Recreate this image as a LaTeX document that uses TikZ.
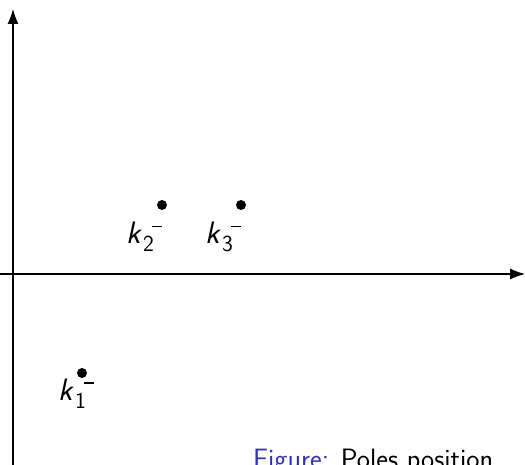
\documentclass[tikz,border=0pt]{standalone}
\usetikzlibrary{arrows.meta}
\definecolor{structblue}{RGB}{51,51,178}
\tikzset{
  axis/.style={line width=1.1pt,-{Latex[length=15pt,width=11pt]}},
  pole/.style={circle,fill=black,inner sep=0pt,minimum size=10pt},
  polelabel/.style={inner sep=0pt,anchor=base west,font=\fontsize{31}{36}\selectfont\sffamily},
  caption/.style={inner sep=0pt,anchor=base west,font=\fontsize{28}{34}\selectfont\sffamily}
}
\newcommand{\lblscript}{\fontsize{23}{27}\selectfont}
\newcommand{\klab}[1]{\rlap{\textit{k}}\hspace*{17pt}\rlap{\raisebox{-8pt}{\lblscript #1}}\hspace*{9pt}\raisebox{16.5pt}{\rule{10pt}{1.3pt}}}
\begin{document}
\begin{tikzpicture}[x=1pt,y=-1pt]
\useasboundingbox (0,0) rectangle (525,465);
\coordinate (yb) at (13,470);
\coordinate (yt) at (13,9);
\coordinate (xl) at (0,274);
\coordinate (xr) at (525,274);
\draw[axis] (yb) -- (yt);
\draw[axis] (xl) -- (xr);
\node[pole] (p2) at (162,205) {};
\node[pole] (p3) at (241,205) {};
\node[pole] (p1) at (82,373) {};
\node[polelabel] (l2) at (126,244) {\klab{2}};
\node[polelabel] (l3) at (205,244) {\klab{3}};
\node[polelabel] (l1) at (58,400) {\klab{1}};
\node[caption] (cap) at (253,468) {\textcolor{structblue}{Figure:} Poles position};
\end{tikzpicture}
\end{document}
